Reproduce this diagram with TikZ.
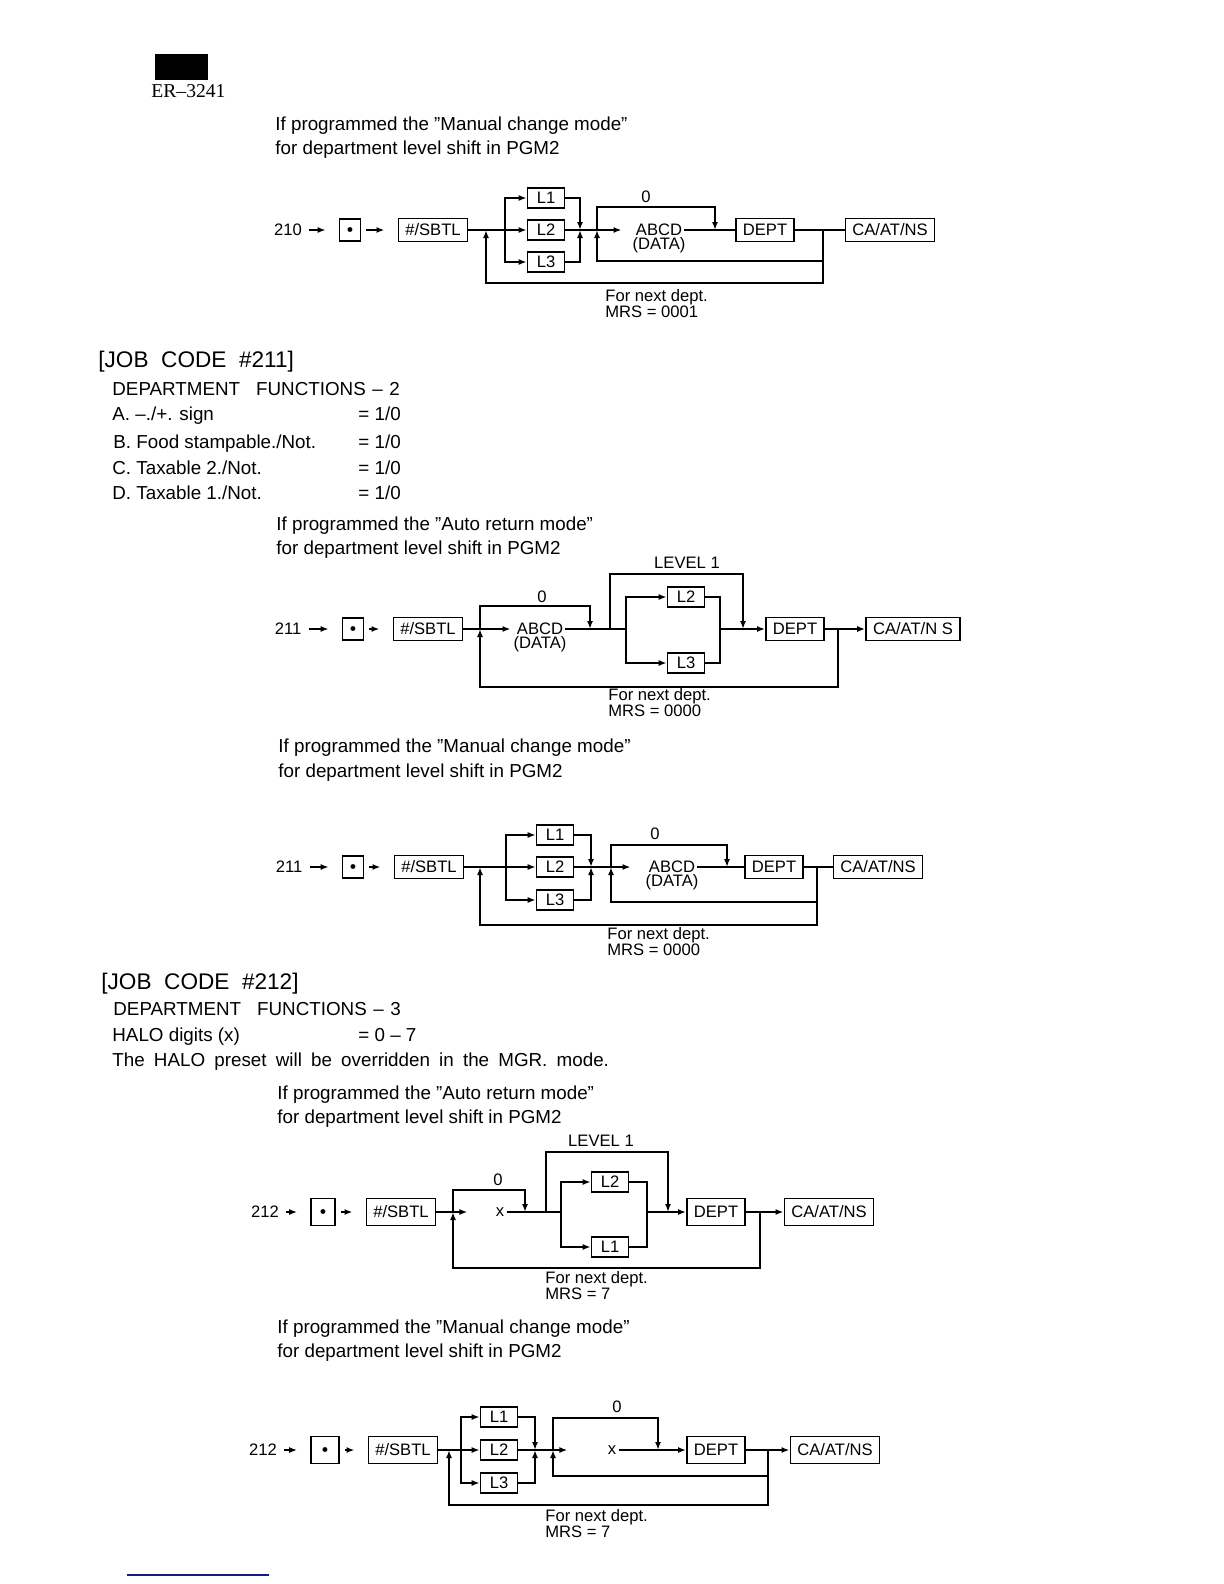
\documentclass[tikz,border=0pt]{standalone}
\usepackage{fontspec}
\setmainfont{Liberation Sans}
\newfontfamily\erfont{Liberation Serif}[Ligatures=TeX]
\usetikzlibrary{arrows.meta,positioning}
\definecolor{rulenavy}{RGB}{25,25,135}

\begin{document}
\begin{tikzpicture}[
  x=0.5pt, y=-0.5pt,
  keybox/.style={draw, line width=0.8pt, inner xsep=3.5pt, inner ysep=1pt, minimum height=11.5pt, font=\fontsize{8.3}{10}\selectfont},
  tallbox/.style={keybox, minimum height=13.5pt},
  levelbox/.style={draw, line width=0.8pt, inner sep=1pt, minimum width=18.5pt, minimum height=10pt, font=\fontsize{8.3}{10}\selectfont},
  dotbox/.style={draw, line width=0.8pt, inner sep=0pt, minimum width=10.5pt, minimum height=11pt},
  flowtext/.style={inner sep=1pt, font=\fontsize{8.3}{10}\selectfont},
  notetext/.style={anchor=west, inner sep=0pt, align=left, font=\fontsize{8.3}{8}\selectfont},
  bodytext/.style={anchor=base west, inner sep=0pt, font=\fontsize{9.4}{11}\selectfont},
  jobtext/.style={anchor=base west, inner sep=0pt, font=\fontsize{11.3}{13}\selectfont},
  wire/.style={line width=0.8pt},
  arrow/.style={line width=0.8pt, -{Latex[length=4pt,width=3pt]}},
  keyarrow/.style={arrow, shorten <=2.5pt, shorten >=6.5pt}
]
\useasboundingbox (0,0) rectangle (1224,1584);
\newcommand{\keydot}{{\fontsize{3.6}{4}\selectfont$\bullet$}}

% page head
\fill (155,54) rectangle (208,80);
\node[anchor=west, inner sep=0pt, font=\erfont\fontsize{9.8}{11}\selectfont] (model) at (151,91) {ER--3241};

% ---- job code 210, manual change ----
\node[bodytext] (manualA) at (275,131) {If programmed the ''Manual change mode''};
\node[bodytext] (shiftA) at (275,155) {for department level shift in PGM2};

\node[flowtext] (codeA) at (288,230) {210};
\node[dotbox] (dotA) at (350,230) {\keydot};
\node[keybox] (sbtlA) at (433,230) {\#/SBTL};
\node[levelbox] (lOneA) at (546,198) {L1};
\node[levelbox] (lTwoA) at (546,230) {L2};
\node[levelbox] (lThreeA) at (546,262) {L3};
\node[flowtext] (abcdA) at (659,230) {ABCD};
\node[flowtext] (dataA) at (659,245) {(DATA)};
\node[flowtext] (zeroA) at (646,197) {0};
\node[keybox] (deptA) at (765,230) {DEPT};
\node[keybox] (caA) at (890,230) {CA/AT/NS};
\node[notetext] (nextA) at (605,304) {For next dept.\\MRS = 0001};
\coordinate (retA) at (486,230);
\coordinate (splitA) at (505,230);
\coordinate (mergeA) at (580,230);
\coordinate (loopA) at (597,230);
\coordinate (tipA) at (715,230);
\coordinate (joinA) at (823,230);
\coordinate (innerA) at (597,261);
\coordinate (outerA) at (486,283);

\draw[keyarrow] (codeA) -- (dotA);
\draw[keyarrow] (dotA) -- (sbtlA);
\draw[wire] (sbtlA) -- (splitA);
\draw[arrow] (splitA) |- (lOneA);
\draw[arrow] (splitA) -- (lTwoA);
\draw[arrow] (splitA) |- (lThreeA);
\draw[arrow] (lOneA) -| (mergeA);
\draw[arrow] (lThreeA) -| (mergeA);
\draw[wire] (lTwoA) -- (mergeA);
\draw[arrow, shorten >=6pt] (mergeA) -- (abcdA);
\draw[arrow] (loopA) -- ++(0,-23) -| (tipA);
\draw[wire] (abcdA) -- (deptA);
\draw[wire] (deptA) -- (caA);
\draw[arrow] (joinA) |- (innerA) -- (loopA);
\draw[arrow] (joinA) |- (outerA) -- (retA);

% ---- job code 211 ----
\node[jobtext] (jobB) at (98,367) {[JOB\ \ CODE\ \ \#211]};
\node[bodytext] (funcB) at (112,395) {DEPARTMENT\hspace{0.85em}FUNCTIONS\hspace{0.35em}--\hspace{0.35em}2};
\node[bodytext] (signB) at (112,420) {A. --./+. sign};
\node[bodytext] (foodB) at (113,448) {B.\ Food stampable./Not.};
\node[bodytext] (taxTwoB) at (112,474) {C. Taxable 2./Not.};
\node[bodytext] (taxOneB) at (112,499) {D. Taxable 1./Not.};
\node[bodytext] (signValB) at (358,420) {= 1/0};
\node[bodytext] (foodValB) at (358,448) {= 1/0};
\node[bodytext] (taxTwoValB) at (358,474) {= 1/0};
\node[bodytext] (taxOneValB) at (358,499) {= 1/0};
\node[bodytext] (autoB) at (276,530) {If programmed the ''Auto return mode''};
\node[bodytext] (shiftB) at (276,554) {for department level shift in PGM2};

% auto return
\node[flowtext] (codeB) at (288,629) {211};
\node[dotbox] (dotB) at (353,629) {\keydot};
\node[keybox] (sbtlB) at (428,629) {\#/SBTL};
\node[flowtext] (abcdB) at (540,629) {ABCD};
\node[flowtext] (dataB) at (540,644) {(DATA)};
\node[flowtext] (zeroB) at (542,597) {0};
\node[levelbox] (lTwoB) at (686,597) {L2};
\node[levelbox] (lThreeB) at (686,663) {L3};
\node[flowtext] (levelB) at (687,563) {LEVEL 1};
\node[keybox] (deptB) at (795,629) {DEPT};
\node[keybox] (caB) at (913,629) {CA/AT/N S};
\node[notetext] (nextB) at (608,703) {For next dept.\\MRS = 0000};
\coordinate (retB) at (480,629);
\coordinate (tipB) at (590,629);
\coordinate (levelStartB) at (610,629);
\coordinate (splitB) at (626,629);
\coordinate (mergeB) at (720,629);
\coordinate (levelTipB) at (743,629);
\coordinate (joinB) at (838,629);
\coordinate (outerB) at (480,687);

\draw[keyarrow] (codeB) -- (dotB);
\draw[keyarrow] (dotB) -- (sbtlB);
\draw[arrow, shorten >=2pt] (sbtlB) -- (abcdB);
\draw[arrow] (retB) -- ++(0,-23) -| (tipB);
\draw[wire] (abcdB) -- (splitB);
\draw[arrow] (splitB) |- (lTwoB);
\draw[arrow] (splitB) |- (lThreeB);
\draw[wire] (lTwoB) -| (mergeB);
\draw[wire] (lThreeB) -| (mergeB);
\draw[arrow] (levelStartB) -- ++(0,-55) -| (levelTipB);
\draw[arrow] (mergeB) -- (deptB);
\draw[arrow] (deptB) -- (caB);
\draw[arrow] (joinB) |- (outerB) -- (retB);

% manual change
\node[bodytext] (manualC) at (278,752) {If programmed the ''Manual change mode''};
\node[bodytext] (shiftC) at (278,777) {for department level shift in PGM2};

\node[flowtext] (codeC) at (289,867) {211};
\node[dotbox] (dotC) at (353,867) {\keydot};
\node[keybox] (sbtlC) at (429,867) {\#/SBTL};
\node[levelbox] (lOneC) at (555,835) {L1};
\node[levelbox] (lTwoC) at (555,867) {L2};
\node[levelbox] (lThreeC) at (555,900) {L3};
\node[flowtext] (abcdC) at (672,867) {ABCD};
\node[flowtext] (dataC) at (672,882) {(DATA)};
\node[flowtext] (zeroC) at (655,834) {0};
\node[keybox] (deptC) at (774,867) {DEPT};
\node[keybox] (caC) at (878,867) {CA/AT/NS};
\node[notetext] (nextC) at (607,942) {For next dept.\\MRS = 0000};
\coordinate (retC) at (480,867);
\coordinate (splitC) at (506,867);
\coordinate (mergeC) at (591,867);
\coordinate (loopC) at (611,867);
\coordinate (tipC) at (727,867);
\coordinate (joinC) at (817,867);
\coordinate (innerC) at (611,902);
\coordinate (outerC) at (480,925);

\draw[keyarrow] (codeC) -- (dotC);
\draw[keyarrow] (dotC) -- (sbtlC);
\draw[wire] (sbtlC) -- (splitC);
\draw[arrow] (splitC) |- (lOneC);
\draw[arrow] (splitC) -- (lTwoC);
\draw[arrow] (splitC) |- (lThreeC);
\draw[arrow] (lOneC) -| (mergeC);
\draw[arrow] (lThreeC) -| (mergeC);
\draw[wire] (lTwoC) -- (mergeC);
\draw[arrow, shorten >=8pt] (mergeC) -- (abcdC);
\draw[arrow] (loopC) -- ++(0,-22) -| (tipC);
\draw[wire] (abcdC) -- (deptC);
\draw[wire] (deptC) -- (caC);
\draw[arrow] (joinC) |- (innerC) -- (loopC);
\draw[arrow] (joinC) |- (outerC) -- (retC);

% ---- job code 212 ----
\node[jobtext] (jobD) at (101,989) {[JOB\ \ CODE\ \ \#212]};
\node[bodytext] (funcD) at (113,1015) {DEPARTMENT\hspace{0.85em}FUNCTIONS\hspace{0.35em}--\hspace{0.35em}3};
\node[bodytext] (haloD) at (112,1041) {HALO digits (x)};
\node[bodytext] (haloValD) at (358,1041) {= 0 -- 7};
\node[bodytext] (presetD) at (112,1066) {\spaceskip=4.6pt\relax The HALO preset will be overridden in the MGR. mode.};
\node[bodytext] (autoD) at (277,1099) {If programmed the ''Auto return mode''};
\node[bodytext] (shiftD) at (277,1123) {for department level shift in PGM2};

% auto return
\node[flowtext] (codeD) at (265,1212) {212};
\node[dotbox, minimum width=12pt, minimum height=13.5pt] (dotD) at (323,1212) {\keydot};
\node[tallbox] (sbtlD) at (401,1212) {\#/SBTL};
\node[flowtext] (xD) at (500,1212) {x};
\node[flowtext] (zeroD) at (498,1180) {0};
\node[levelbox] (lTwoD) at (610,1182) {L2};
\node[levelbox] (lOneD) at (610,1247) {L1};
\node[flowtext] (levelD) at (601,1141) {LEVEL 1};
\node[tallbox] (deptD) at (716,1212) {DEPT};
\node[tallbox] (caD) at (829,1212) {CA/AT/NS};
\node[notetext] (nextD) at (545,1286) {For next dept.\\MRS = 7};
\coordinate (retD) at (453,1212);
\coordinate (tipD) at (525,1212);
\coordinate (levelStartD) at (546,1212);
\coordinate (splitD) at (561,1212);
\coordinate (mergeD) at (647,1212);
\coordinate (levelTipD) at (668,1212);
\coordinate (joinD) at (760,1212);
\coordinate (outerD) at (453,1268);

\draw[keyarrow] (codeD) -- (dotD);
\draw[keyarrow] (dotD) -- (sbtlD);
\draw[arrow, shorten >=13pt] (sbtlD) -- (xD);
\draw[arrow] (retD) -- ++(0,-22) -| (tipD);
\draw[wire] (xD) -- (splitD);
\draw[arrow] (splitD) |- (lTwoD);
\draw[arrow] (splitD) |- (lOneD);
\draw[wire] (lTwoD) -| (mergeD);
\draw[wire] (lOneD) -| (mergeD);
\draw[arrow] (levelStartD) -- ++(0,-60) -| (levelTipD);
\draw[arrow] (mergeD) -- (deptD);
\draw[arrow] (deptD) -- (caD);
\draw[arrow] (joinD) |- (outerD) -- (retD);

% manual change
\node[bodytext] (manualE) at (277,1333) {If programmed the ''Manual change mode''};
\node[bodytext] (shiftE) at (277,1357) {for department level shift in PGM2};

\node[flowtext] (codeE) at (263,1450) {212};
\node[dotbox, minimum width=14pt, minimum height=13.5pt] (dotE) at (325,1450) {\keydot};
\node[tallbox] (sbtlE) at (403,1450) {\#/SBTL};
\node[levelbox] (lOneE) at (499,1417) {L1};
\node[levelbox] (lTwoE) at (499,1450) {L2};
\node[levelbox] (lThreeE) at (499,1483) {L3};
\node[flowtext] (xE) at (612,1450) {x};
\node[flowtext] (zeroE) at (617,1407) {0};
\node[tallbox] (deptE) at (716,1450) {DEPT};
\node[tallbox] (caE) at (835,1450) {CA/AT/NS};
\node[notetext] (nextE) at (545,1524) {For next dept.\\MRS = 7};
\coordinate (retE) at (449,1450);
\coordinate (splitE) at (461,1450);
\coordinate (mergeE) at (535,1450);
\coordinate (loopE) at (553,1450);
\coordinate (tipE) at (658,1450);
\coordinate (joinE) at (768,1450);
\coordinate (innerE) at (553,1476);
\coordinate (outerE) at (449,1505);

\draw[keyarrow] (codeE) -- (dotE);
\draw[keyarrow] (dotE) -- (sbtlE);
\draw[wire] (sbtlE) -- (splitE);
\draw[arrow] (splitE) |- (lOneE);
\draw[arrow] (splitE) -- (lTwoE);
\draw[arrow] (splitE) |- (lThreeE);
\draw[arrow] (lOneE) -| (mergeE);
\draw[arrow] (lThreeE) -| (mergeE);
\draw[wire] (lTwoE) -- (mergeE);
\draw[arrow, shorten >=19pt] (mergeE) -- (xE);
\draw[arrow] (loopE) -- ++(0,-32) -| (tipE);
\draw[arrow] (xE) -- (deptE);
\draw[arrow] (deptE) -- (caE);
\draw[arrow] (joinE) |- (innerE) -- (loopE);
\draw[arrow] (joinE) |- (outerE) -- (retE);

% page foot
\draw[rulenavy, line width=1pt] (127,1575) -- (269,1575);
\end{tikzpicture}
\end{document}
